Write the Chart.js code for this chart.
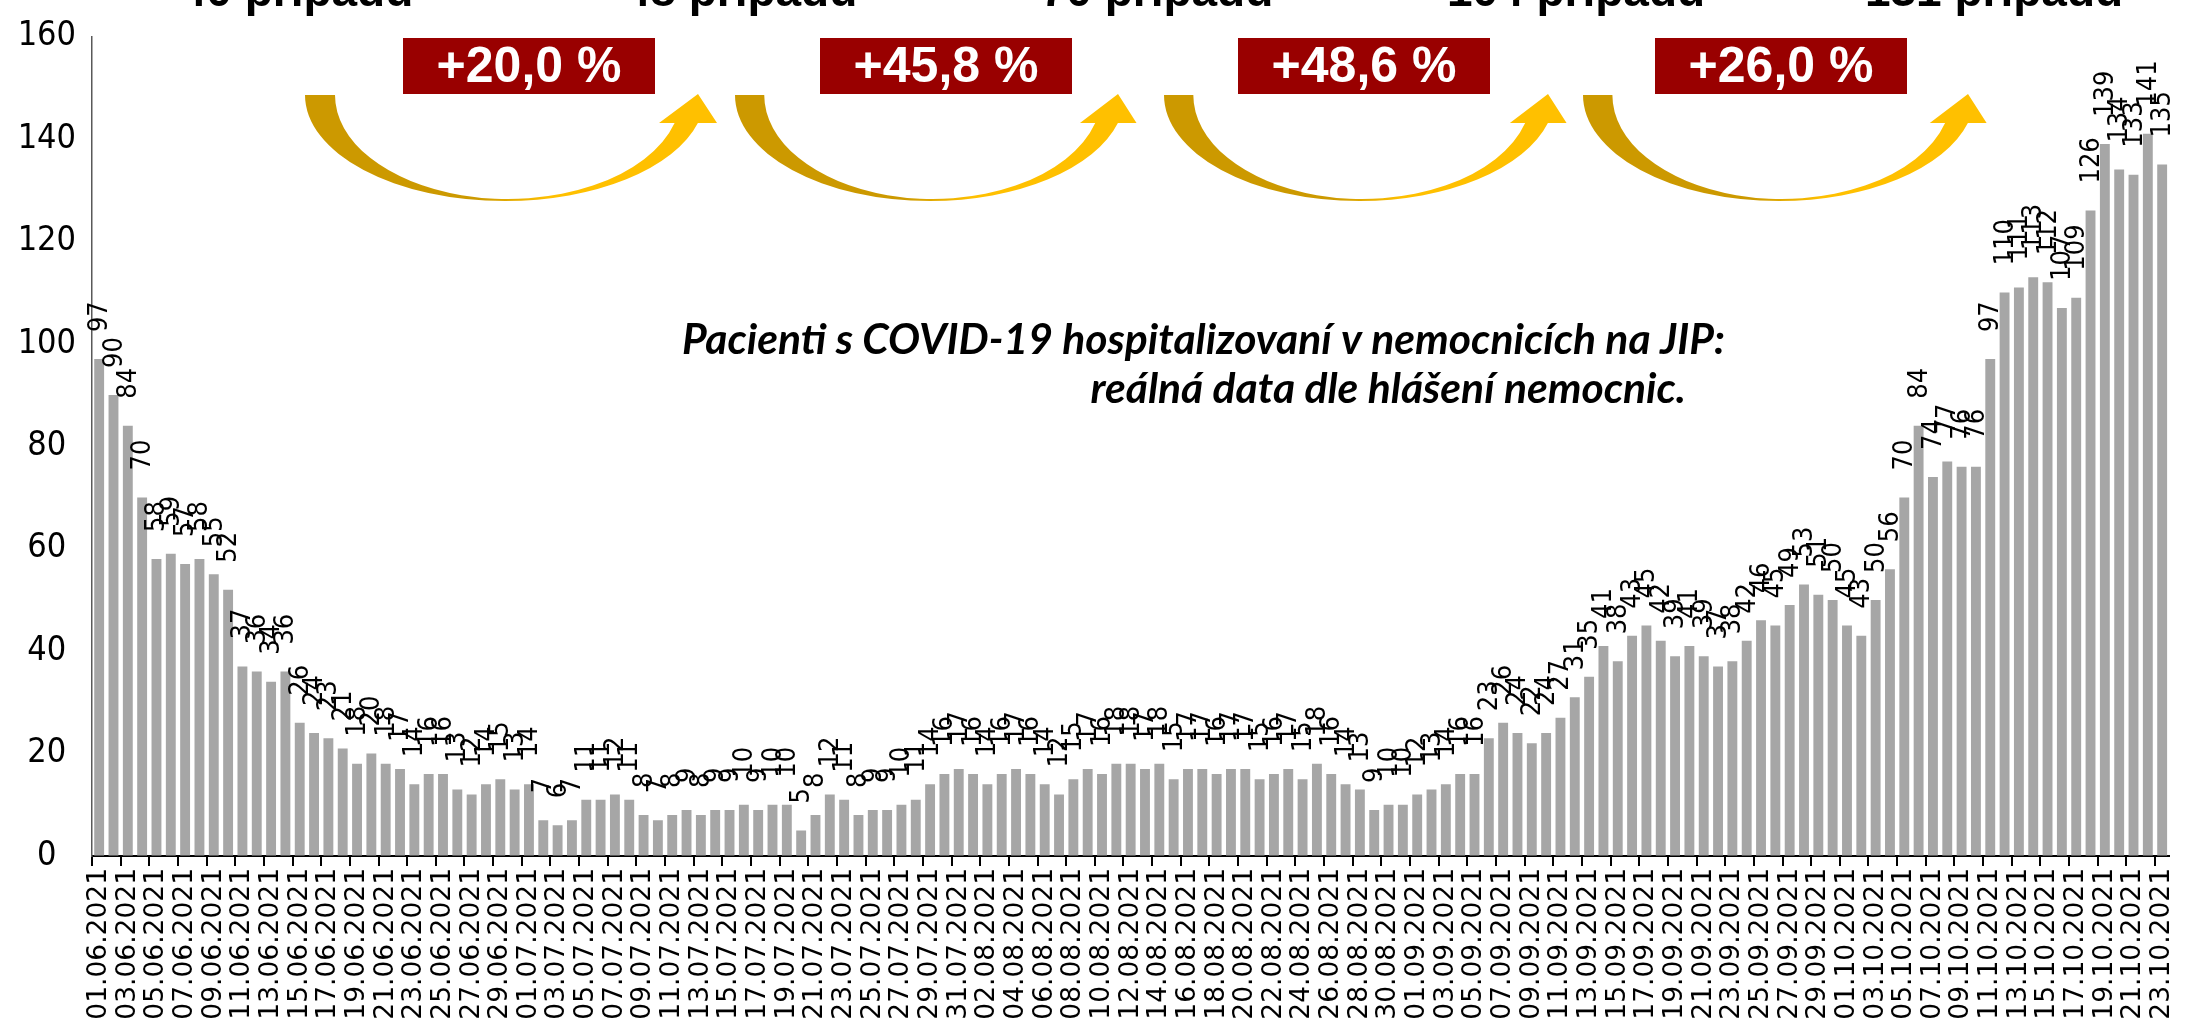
<!DOCTYPE html>
<html>
<head>
<meta charset="utf-8">
<script src="https://cdn.jsdelivr.net/npm/chart.js@4.4.0/dist/chart.umd.min.js"></script>
<style>
  html, body { margin: 0; padding: 0; background: #fff; }
</style>
</head>
<body>
<canvas id="jipChart" width="2196" height="1024"></canvas>
<script>
// počty pacientů na JIP po dnech, po měsících
const junValues = [97, 90, 84, 70, 58, 59, 57, 58, 55, 52, 37, 36, 34, 36, 26, 24, 23, 21, 18, 20,
                   18, 17, 14, 16, 16, 13, 12, 14, 15, 13];
const julValues = [14, 7, 6, 7, 11, 11, 12, 11, 8, 7, 8, 9, 8, 9, 9, 10, 9, 10, 10, 5,
                   8, 12, 11, 8, 9, 9, 10, 11, 14, 16, 17];
const augValues = [16, 14, 16, 17, 16, 14, 12, 15, 17, 16, 18, 18, 17, 18, 15, 17, 17, 16, 17, 17,
                   15, 16, 17, 15, 18, 16, 14, 13, 9, 10, 10];
const sepValues = [12, 13, 14, 16, 16, 23, 26, 24, 22, 24, 27, 31, 35, 41, 38, 43, 45, 42, 39, 41,
                   39, 37, 38, 42, 46, 45, 49, 53, 51, 50];
const octValues = [45, 43, 50, 56, 70, 84, 74, 77, 76, 76, 97, 110, 111, 113, 112, 107, 109, 126, 139, 134,
                   133, 141, 135];
const monthCodes = ['06', '07', '08', '09', '10'];

// texty anotací
const weeklyCases = ['40 případů', '48 případů', '70 případů', '104 případů', '131 případů'];
const growthLabels = ['+20,0 %', '+45,8 %', '+48,6 %', '+26,0 %'];
const noteLines = ['Pacienti s COVID-19 hospitalizovaní v nemocnicích na JIP:',
                   'reálná data dle hlášení nemocnic.'];

// popisky dnů a jedna řada hodnot
const monthValues = [junValues, julValues, augValues, sepValues, octValues];
const dayLabels = [];
monthValues.forEach((vals, m) => {
    vals.forEach((v, d) => {
        dayLabels.push(String(d + 1).padStart(2, '0') + '.' + monthCodes[m] + '.2021');
    });
});
const jipPatients = [].concat(...monthValues);

const labelFont = "'Liberation Sans Narrow', 'DejaVu Sans Condensed', sans-serif";

// hodnoty nad sloupci, otočené o 90°
const barValueLabels = {
    id: 'barValueLabels',
    afterDatasetsDraw(chart) {
        const ctx = chart.ctx;
        const meta = chart.getDatasetMeta(0);
        ctx.save();
        ctx.font = '27px ' + labelFont;
        ctx.fillStyle = '#000';
        ctx.textAlign = 'left';
        ctx.textBaseline = 'middle';
        meta.data.forEach((bar, i) => {
            ctx.save();
            ctx.translate(bar.x + 1, bar.y - 27);
            ctx.rotate(-Math.PI / 2);
            ctx.fillText(String(jipPatients[i]), 0, 0);
            ctx.restore();
        });
        ctx.restore();
    }
};

// zakřivená šipka (mezi týdny)
function drawArrow(ctx, x0, xTip) {
    const s = (xTip - x0) / 393;
    const cy = 95;
    const yEnd = 123;
    const rx = 200 * s, ry = 106;
    const rxi = 173 * s, ryi = 104;
    const cx = x0 + 200 * s, cxi = x0 + 203 * s;
    const a1 = Math.asin((yEnd - cy) / ry);
    const a2 = Math.asin((yEnd - cy) / ryi);

    const grad = ctx.createLinearGradient(x0, 0, x0 + 410 * s, 0);
    grad.addColorStop(0, '#CC9900');
    grad.addColorStop(0.42, '#CC9900');
    grad.addColorStop(0.6, '#FFC000');
    grad.addColorStop(1, '#FFC000');

    ctx.beginPath();
    ctx.moveTo(x0, cy);
    ctx.ellipse(cx, cy, rx, ry, 0, Math.PI, a1, true);
    ctx.lineTo(x0 + 412 * s, yEnd);
    ctx.lineTo(xTip, 94);
    ctx.lineTo(x0 + 354 * s, yEnd);
    ctx.ellipse(cxi, cy, rxi, ryi, 0, a2, Math.PI, false);
    ctx.closePath();
    ctx.fillStyle = grad;
    ctx.fill();
}

const arrowTails = [305, 735, 1164, 1583];
const arrowTips = [698, 1118, 1548, 1968];
const boxLefts = [403, 820, 1238, 1655];
const caseCenters = [297, 741, 1157, 1576, 1994];

const annotations = {
    id: 'annotations',
    afterDraw(chart) {
        const ctx = chart.ctx;
        ctx.save();

        // texty "xx případů" nahoře, useknuté
        ctx.font = "bold 46px 'Liberation Sans', Arial, sans-serif";
        ctx.fillStyle = '#000';
        ctx.textAlign = 'center';
        ctx.textBaseline = 'alphabetic';
        weeklyCases.forEach((t, i) => ctx.fillText(t, caseCenters[i], 6));

        arrowTails.forEach((x, i) => drawArrow(ctx, x, arrowTips[i]));

        // červené boxy s procenty
        growthLabels.forEach((t, i) => {
            ctx.fillStyle = '#990000';
            ctx.fillRect(boxLefts[i], 38, 252, 56);
            ctx.fillStyle = '#fff';
            ctx.font = "bold 50px 'Liberation Sans', Arial, sans-serif";
            ctx.textAlign = 'center';
            ctx.textBaseline = 'middle';
            ctx.fillText(t, boxLefts[i] + 126, 68);
        });

        // poznámka kurzívou
        ctx.fillStyle = '#000';
        ctx.textBaseline = 'alphabetic';
        ctx.font = "italic bold 100px Lato, 'Open Sans', sans-serif";
        const size = 100 * 1043 / ctx.measureText(noteLines[0]).width;
        ctx.font = 'italic bold ' + size.toFixed(1) + "px Lato, 'Open Sans', sans-serif";
        ctx.textAlign = 'left';
        ctx.fillText(noteLines[0], 682, 354);
        ctx.textAlign = 'right';
        ctx.fillText(noteLines[1], 1686, 403);

        ctx.restore();
    }
};

const ctx = document.getElementById('jipChart').getContext('2d');
new Chart(ctx, {
    type: 'bar',
    data: {
        labels: dayLabels,
        datasets: [{
            data: jipPatients,
            backgroundColor: '#A6A6A6',
            barPercentage: 0.69,
            categoryPercentage: 1.0
        }]
    },
    options: {
        responsive: false,
        animation: false,
        devicePixelRatio: 1,
        layout: { padding: { top: 21, right: 11, left: 0, bottom: 0 } },
        plugins: {
            legend: { display: false },
            tooltip: { enabled: false }
        },
        scales: {
            x: {
                grid: {
                    drawOnChartArea: false,
                    tickLength: 10,
                    lineWidth: 2,
                    color: c => (c.index % 2 === 0 ? '#000' : 'rgba(0,0,0,0)')
                },
                border: { color: '#000', width: 2 },
                ticks: {
                    autoSkip: false,
                    minRotation: 90,
                    maxRotation: 90,
                    padding: 2,
                    color: '#000',
                    font: { family: "'DejaVu Sans', sans-serif", size: 26.5 },
                    callback: (v, i) => (i % 2 === 0 ? dayLabels[i] : '')
                },
                afterFit: s => { s.height = 168; }
            },
            y: {
                min: 0,
                max: 160,
                grid: { drawOnChartArea: false, drawTicks: false },
                border: { color: '#595959', width: 1.5 },
                ticks: {
                    stepSize: 20,
                    padding: 16,
                    crossAlign: 'center',
                    color: '#000',
                    font: { family: labelFont, size: 34 }
                },
                afterFit: s => { s.width = 92; }
            }
        }
    },
    plugins: [barValueLabels, annotations]
});
</script>
</body>
</html>
